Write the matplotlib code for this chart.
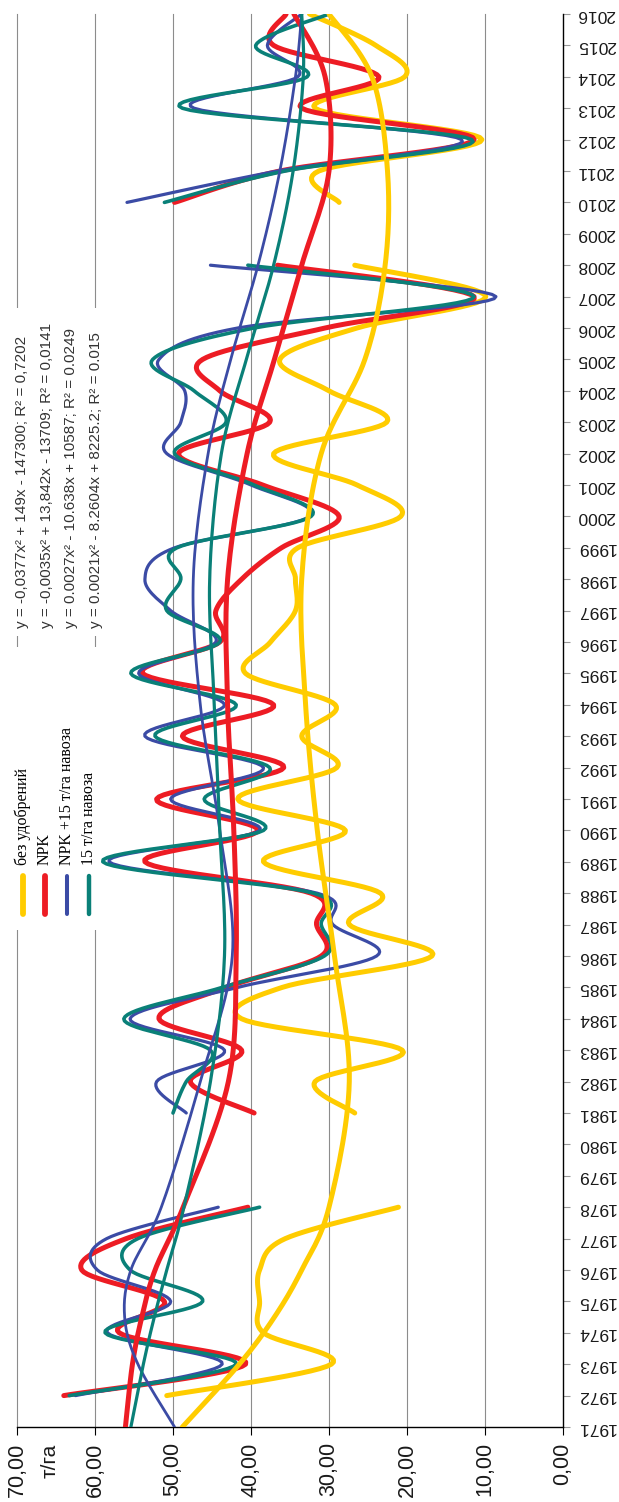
import numpy as np
from matplotlib import pyplot as plt
from matplotlib.lines import Line2D
from matplotlib.patches import Rectangle

plt.rcParams['font.family'] = ['Liberation Sans', 'DejaVu Sans']

years = list(range(1971, 2017))
N = None
# урожайность, т/га (None - нет данных)
bez = [N, 50.8, 29.7, 38.4, 38.9, 38.9, 35.6, 21.1, N, N,
       26.7, 31.8, 20.6, 41.2, 36.0, 16.8, 27.4, 23.4, 38.4, 27.9,
       41.7, 29.0, 33.5, 29.2, 40.7, 37.5, 34.3, 34.3, 34.0, 20.8,
       26.4, 37.1, 22.6, 30.0, 36.3, 26.4, 9.9, 26.7, N, 28.7,
       31.3, 10.4, 31.8, 20.3, 24.0, 32.5]
npk = [N, 64.0, 40.7, 56.9, 51.1, 61.7, 56.0, 40.4, N, N,
       39.6, 47.8, 41.2, 51.8, 43.2, 31.0, 31.6, 32.3, 53.6, 39.1,
       52.1, 35.8, 48.8, 37.1, 53.9, 44.0, 44.5, 41.2, 36.1, 28.7,
       38.5, 49.3, 37.6, 44.0, 46.2, 30.5, 11.4, 36.6, N, 49.8,
       36.3, 11.4, 33.5, 23.6, 37.1, 35.5]
npk_nav = [N, 62.5, 43.7, 58.4, 50.3, 59.7, 58.5, 44.2, N, N,
           48.3, 52.1, 43.4, 55.5, 41.7, 23.9, 29.5, 31.5, 58.2, 38.9,
           50.3, 38.4, 53.6, 43.4, 54.4, 44.5, 50.3, 53.6, 49.8, 32.5,
           40.0, 50.8, 49.0, 48.5, 51.8, 41.7, 8.6, 45.2, N, 55.9,
           36.6, 13.0, 47.3, 34.0, 37.9, 33.5]
nav = [N, 63.3, 41.9, 58.7, 46.2, 55.5, 54.5, 38.9, N, N,
       50.0, 48.3, 45.2, 56.3, 43.7, 30.6, 31.0, 32.0, 59.0, 38.4,
       46.0, 37.6, 52.3, 41.9, 55.4, 44.0, 50.8, 49.0, 49.5, 32.3,
       39.6, 49.8, 43.2, 47.3, 52.6, 39.6, 11.4, 40.4, N, 51.1,
       35.6, 11.7, 48.8, 32.8, 39.4, 30.0]

# линии тренда
tr_years = [1971, 1973, 1974.5, 1976, 1978, 1982, 1986, 1990, 1994, 1998,
            2002, 2005, 2008, 2011, 2014, 2016]
tr_bez = [48.8, 41.5, 37.0, 33.5, 30.0, 27.4, 29.3, 31.5, 33.0, 33.5,
          31.0, 25.4, 22.8, 22.5, 24.5, 30.0]
tr_npk = [56.1, 55.2, 54.0, 52.3, 48.7, 42.9, 41.9, 42.2, 43.0, 43.0,
          40.5, 37.0, 33.5, 30.0, 30.5, 34.5]
tr_npk_nav = [49.8, 54.5, 56.2, 55.4, 51.5, 46.5, 42.4, 44.0, 46.5, 47.4,
              45.5, 42.6, 39.1, 36.3, 34.3, 33.5]
tr_nav = [55.4, 53.8, 52.4, 50.8, 48.6, 45.2, 43.4, 44.0, 44.7, 45.3,
          43.8, 40.6, 37.1, 34.6, 33.3, 33.5]

names = ['без удобрений', 'NPK', 'NPK +15 т/га навоза', '15 т/га навоза']
colors = ['#FFCC00', '#ED1C24', '#3B4BA5', '#0A8078']
widths = [3.6, 3.6, 2.3, 2.6]
tr_widths = [3.6, 3.6, 2.0, 2.3]
equations = ['y = -0,0377x² + 149x - 147300; R² = 0,7202',
             'y = -0,0035x² + 13,842x - 13709; R² = 0,0141',
             'y = 0.0027x² - 10.638x + 10587; R² = 0.0249',
             'y = 0.0021x² - 8.2604x + 8225.2; R² = 0.015']


def smooth(xs, ys, k=16):
    # сглаживание как в Excel (Безье / Catmull-Rom)
    P = np.column_stack([xs, ys]).astype(float)
    out = [P[0]]
    t = np.linspace(0, 1, k)[1:, None]
    for i in range(len(P) - 1):
        p0 = P[i - 1] if i > 0 else P[i]
        p1, p2 = P[i], P[i + 1]
        p3 = P[i + 2] if i + 2 < len(P) else P[i + 1]
        c1 = p1 + (p2 - p0) / 6
        c2 = p2 - (p3 - p1) / 6
        seg = (1-t)**3*p1 + 3*(1-t)**2*t*c1 + 3*(1-t)*t**2*c2 + t**3*p2
        out.extend(seg)
    return np.array(out)


def segments(vals):
    seg = []
    for y, v in zip(years, vals):
        if v is None:
            if seg:
                yield seg
            seg = []
        else:
            seg.append((y, v))
    if seg:
        yield seg


W, H = 619, 1502
fig = plt.figure(figsize=(W/100, H/100), dpi=100)
ax = fig.add_axes([17/W, 1-1427/H, 546/W, 1413/H])
ax.set_xlim(70, 0)
ax.set_ylim(1971, 2016)

for v in range(10, 80, 10):
    ax.axvline(v, color='#8c8c8c', lw=0.8, zorder=0.5, clip_on=False)


def ypix(p):
    return 2016 - (p - 14) / 31.4


# белые подложки под легендами
for y1, y2 in [(308, 636), (647, 930)]:
    ax.add_patch(Rectangle((57.5, ypix(y2)), 13.5, ypix(y1) - ypix(y2),
                           facecolor='white', edgecolor='none', zorder=0.8,
                           clip_on=False))

for vals, c, lw in zip([bez, npk, npk_nav, nav], colors, widths):
    for seg in segments(vals):
        ys, vs = zip(*seg)
        cur = smooth(ys, vs)
        ax.plot(cur[:, 1], cur[:, 0], color=c, lw=lw, zorder=2,
                solid_capstyle='round')

for vals, c, lw in zip([tr_bez, tr_npk, tr_npk_nav, tr_nav], colors, tr_widths):
    cur = smooth(tr_years, vals)
    ax.plot(cur[:, 1], cur[:, 0], color=c, lw=lw, zorder=3,
            solid_capstyle='round')

ax.set_xticks(range(0, 80, 10))
ax.set_xticklabels([f'{v},00' for v in range(0, 80, 10)], rotation=90,
                   fontsize=15.5, color='#1a1a1a')
ax.yaxis.tick_right()
ax.set_yticks(years)
ax.set_yticklabels([str(y) for y in years], rotation=180, fontsize=12.5,
                   color='#1a1a1a', va='center')
for s in ['top', 'left']:
    ax.spines[s].set_visible(False)
ax.spines['right'].set_color('black')
ax.spines['bottom'].set_color('black')
ax.spines['right'].set_linewidth(1.0)
ax.spines['bottom'].set_linewidth(1.0)
ax.tick_params(axis='y', direction='out', length=5, color='#999999', pad=5)
ax.tick_params(axis='x', direction='out', length=6, color='black', pad=5)

fig.text(50/W, 1-1461/H, 'т/га', rotation=90, fontsize=15, ha='center',
         va='center', color='#1a1a1a')

# легенда
for i, (name, c, lw) in enumerate(zip(names, colors, widths)):
    fx = (22.7 + 22.2*i) / W
    fig.add_artist(Line2D([fx, fx], [1-876/H, 1-914/H], color=c, lw=lw + 0.6,
                          solid_capstyle='round', transform=fig.transFigure))
    fig.text(fx, 1-865/H, name, rotation=90, rotation_mode='anchor',
             ha='left', va='center', fontsize=11.5, family='Liberation Serif',
             color='black')

# уравнения трендов
for i, eq in enumerate(equations):
    fx = (22 + 24.6*i) / W
    fig.text(fx, 1-628/H, eq, rotation=90, rotation_mode='anchor',
             ha='left', va='center', fontsize=11, color='#333333')

fig.savefig('out.png', dpi=100)
